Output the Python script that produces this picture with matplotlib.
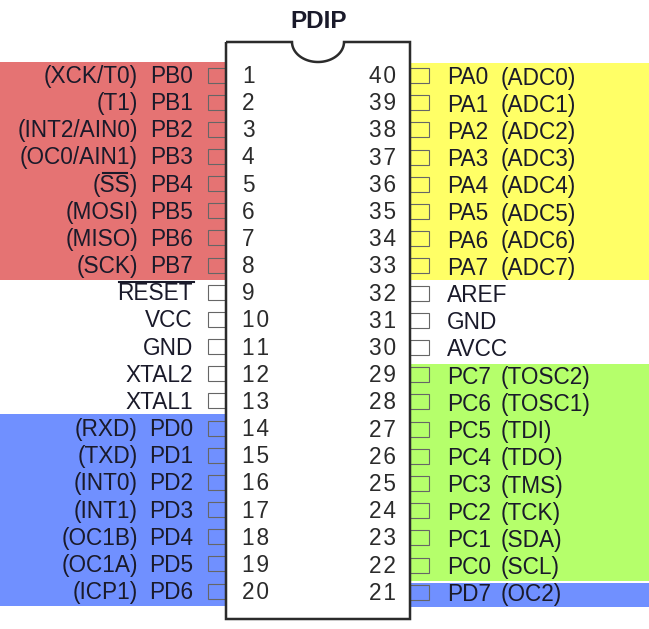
import numpy as np
import matplotlib
matplotlib.use('Agg')
import matplotlib.pyplot as plt
from matplotlib.patches import Rectangle, PathPatch
from matplotlib.path import Path

plt.rcParams['font.family'] = ['Liberation Sans', 'DejaVu Sans']

# pin tables, top to bottom
left_pins = ['PB0', 'PB1', 'PB2', 'PB3', 'PB4', 'PB5', 'PB6', 'PB7', 'RESET', 'VCC',
             'GND', 'XTAL2', 'XTAL1', 'PD0', 'PD1', 'PD2', 'PD3', 'PD4', 'PD5', 'PD6']
left_alt = ['(XCK/T0)', '(T1)', '(INT2/AIN0)', '(OC0/AIN1)', '(SS)', '(MOSI)', '(MISO)', '(SCK)',
            '', '', '', '', '', '(RXD)', '(TXD)', '(INT0)', '(INT1)', '(OC1B)', '(OC1A)', '(ICP1)']
left_nums = list(range(1, 21))

right_pins = ['PA0', 'PA1', 'PA2', 'PA3', 'PA4', 'PA5', 'PA6', 'PA7', 'AREF', 'GND',
              'AVCC', 'PC7', 'PC6', 'PC5', 'PC4', 'PC3', 'PC2', 'PC1', 'PC0', 'PD7']
right_alt = ['(ADC0)', '(ADC1)', '(ADC2)', '(ADC3)', '(ADC4)', '(ADC5)', '(ADC6)', '(ADC7)',
             '', '', '', '(TOSC2)', '(TOSC1)', '(TDI)', '(TDO)', '(TMS)', '(TCK)', '(SDA)', '(SCL)', '(OC2)']
right_nums = list(range(40, 20, -1))

RED = '#e57373'
YELLOW = '#ffff66'
GREEN = '#b5ff6b'
BLUE = '#7090ff'
DARK = '#2b2b2b'
TEXT = '#1a1a2a'
FS = 16.3

fig = plt.figure(figsize=(6.49, 6.29), dpi=100)
ax = fig.add_axes([0, 0, 1, 1])
ax.set_xlim(0, 649)
ax.set_ylim(629, 0)
ax.axis('off')

# colour bands behind the port pins
ax.add_patch(Rectangle((0, 62), 226, 218, fc=RED, ec='none'))
ax.add_patch(Rectangle((0, 414), 226, 192, fc=BLUE, ec='none'))
ax.add_patch(Rectangle((408, 63), 241, 217, fc=YELLOW, ec='none'))
ax.add_patch(Rectangle((408, 364), 241, 217, fc=GREEN, ec='none'))
ax.add_patch(Rectangle((408, 583), 241, 24, fc=BLUE, ec='none'))

# chip body with the notch on top
theta = np.linspace(np.pi, 0, 40)
notch = np.column_stack([318 + 26 * np.cos(theta), 42 + 20 * np.sin(theta)])
outline = np.vstack([[[226, 42]], notch, [[410, 42], [410, 619], [226, 619], [226, 42]]])
ax.add_patch(PathPatch(Path(outline), fc='white', ec=DARK, lw=1.8, zorder=3))


def spaced(n):
    # the pin numbers are set a little wider than normal
    return '\u200a'.join(str(n))


for i in range(20):
    y = 75 + i * 27.16
    ax.add_patch(Rectangle((208, y - 7.5), 18, 15, fc='none', ec='#666666', lw=0.8, zorder=2))
    ax.text(193, y + 1.5, left_pins[i], ha='right', va='center', fontsize=FS, color=TEXT)
    if left_alt[i]:
        ax.text(138, y + 1.5, left_alt[i], ha='right', va='center', fontsize=FS, color=TEXT)
    ax.text(242, y + 1.5, spaced(left_nums[i]), ha='left', va='center', fontsize=FS, color=DARK, zorder=4)

    y = 75.5 + i * 27.2
    ax.add_patch(Rectangle((410, y - 7.5), 19, 15, fc='none', ec='#666666', lw=0.8, zorder=2))
    ax.text(447, y + 2.5, right_pins[i], ha='left', va='center', fontsize=FS, color=TEXT)
    if right_alt[i]:
        ax.text(501, y + 2.5, right_alt[i], ha='left', va='center', fontsize=FS, color=TEXT)
    ax.text(396, y + 1, spaced(right_nums[i]), ha='right', va='center', fontsize=FS, color=DARK, zorder=4)

# active-low bars over SS and RESET
ax.plot([103, 127], [173, 173], color=TEXT, lw=1.5)
ax.plot([119, 194], [282, 282], color=TEXT, lw=1.5)

ax.text(319, 21, 'PDIP', ha='center', va='center', fontsize=17.5, fontweight='bold', color=TEXT)

fig.savefig('out.png', dpi=100)
